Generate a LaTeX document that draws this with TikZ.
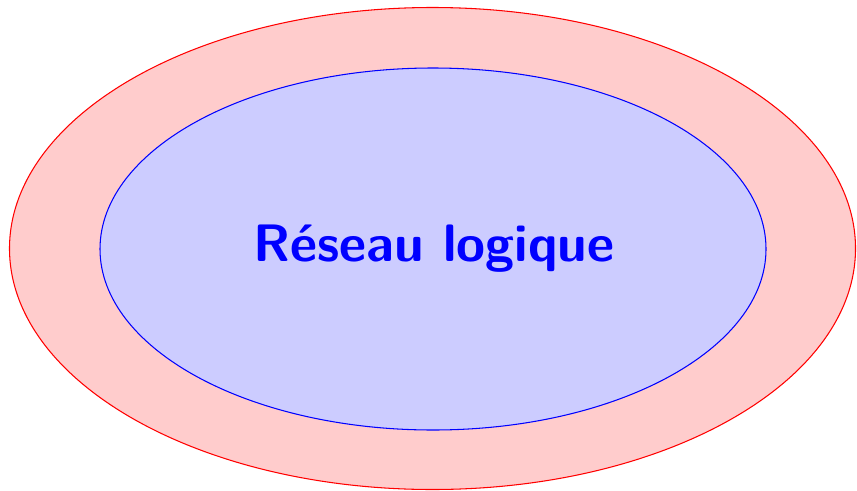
\documentclass[tikz,border=0pt]{standalone}
\usetikzlibrary{shapes.geometric}
\begin{document}
\begin{tikzpicture}[x=0.02cm,y=-0.02cm,
  outerell/.style={draw=red,fill=red!20,line width=0.6pt},
  innerell/.style={draw=blue,fill=blue!20,line width=0.6pt},
  title/.style={text=blue,font=\fontsize{30}{35}\selectfont\sffamily\bfseries}]
\useasboundingbox (0,0) rectangle (857,490);
\path[outerell] (432.5,248.5) ellipse [x radius=423, y radius=241];
\path[innerell] (433,249) ellipse [x radius=333, y radius=181];
\node[title] (t) at (434,249) {Réseau logique};
\end{tikzpicture}
\end{document}
